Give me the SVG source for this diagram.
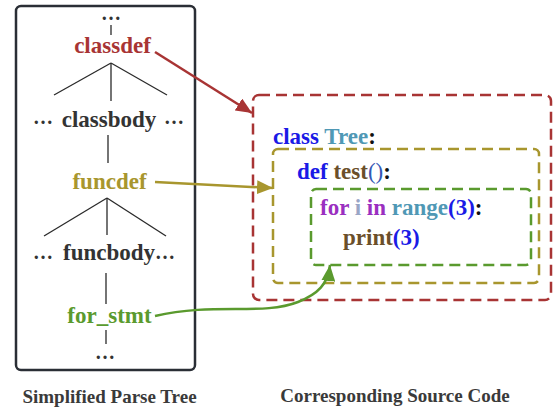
<svg xmlns="http://www.w3.org/2000/svg" width="560" height="408" viewBox="0 0 560 408">
<style>
.t{font-family:"Liberation Serif","Times New Roman",serif;font-weight:bold;}
.lbl{font-size:23px;text-anchor:middle;}
.dots{font-size:20px;fill:#333;}
.edge{stroke:#2a2a2a;stroke-width:1.3;fill:none;}
.cap{font-size:19px;fill:#3a3a3a;text-anchor:middle;}
.code{font-size:23px;}
</style>
<defs>
<marker id="ar" markerUnits="userSpaceOnUse" markerWidth="18" markerHeight="14" refX="16" refY="7" orient="auto"><path d="M0,0 L16,7 L0,14 z" fill="#a83434"/></marker>
<marker id="ao" markerUnits="userSpaceOnUse" markerWidth="18" markerHeight="14" refX="16" refY="7" orient="auto"><path d="M0,0 L16,7 L0,14 z" fill="#a8962e"/></marker>
<marker id="ag" markerUnits="userSpaceOnUse" markerWidth="18" markerHeight="14" refX="16" refY="7" orient="auto"><path d="M0,0 L16,7 L0,14 z" fill="#5a9a2e"/></marker>
</defs>
<rect width="560" height="408" fill="#fff"/>

<g id="parse-tree">
<rect x="16" y="6" width="179" height="364" rx="5" fill="none" stroke="#2a2e35" stroke-width="2.5"/>
<text class="t dots" x="101" y="20">…</text>
<line class="edge" x1="111" y1="25" x2="111" y2="35"/>
<line class="edge" x1="111" y1="63" x2="54" y2="95"/>
<line class="edge" x1="111" y1="63" x2="111" y2="101"/>
<line class="edge" x1="111" y1="63" x2="167" y2="95"/>
<line class="edge" x1="108" y1="135" x2="108" y2="163"/>
<line class="edge" x1="107" y1="198" x2="44" y2="236"/>
<line class="edge" x1="107" y1="198" x2="107" y2="235"/>
<line class="edge" x1="107" y1="198" x2="166" y2="236"/>
<line class="edge" x1="106" y1="273" x2="106" y2="304"/>
<line class="edge" x1="106" y1="330" x2="106" y2="344"/>
<text class="t dots" x="33" y="124">…</text>
<text class="t dots" x="164" y="124">…</text>
<text class="t dots" x="33" y="259">…</text>
<text class="t dots" x="155" y="259">…</text>
<text class="t dots" x="95" y="359">…</text>
</g>
<g id="classdef"><text class="t lbl" x="112.5" y="53" fill="#a83434">classdef</text></g>
<g id="classbody"><text class="t lbl" x="109" y="127" fill="#333">classbody</text></g>
<g id="funcdef"><text class="t lbl" x="109.5" y="189" fill="#a8962e">funcdef</text></g>
<g id="funcbody"><text class="t lbl" x="109" y="260" fill="#333">funcbody</text></g>
<g id="for_stmt"><text class="t lbl" x="109.5" y="323" fill="#5a9a2e">for_stmt</text></g>

<g id="source-code">
<rect x="253" y="95" width="298" height="205" rx="6" fill="none" stroke="#a83434" stroke-width="2.5" stroke-dasharray="11,6"/>
<rect x="273" y="149" width="266" height="134" rx="5" fill="none" stroke="#a8962e" stroke-width="2.5" stroke-dasharray="11,6"/>
<rect x="311" y="189" width="220" height="76" rx="5" fill="none" stroke="#5a9a2e" stroke-width="2.5" stroke-dasharray="11,6"/>
<text class="t code" x="273" y="144"><tspan fill="#1a1ae6">class</tspan> <tspan fill="#4f98b5">Tree</tspan><tspan fill="#111">:</tspan></text>
<text class="t code" x="297" y="179"><tspan fill="#1a1ae6">def</tspan> <tspan fill="#6b4f2a">test</tspan><tspan fill="#3558b5" font-weight="normal">()</tspan><tspan fill="#111">:</tspan></text>
<text class="t code" x="320" y="215"><tspan fill="#9a2fc0">for</tspan> <tspan fill="#9aa6c6">i</tspan> <tspan fill="#9a2fc0">in</tspan> <tspan fill="#4f98b5">range</tspan><tspan fill="#1a1ae6">(3)</tspan><tspan fill="#111">:</tspan></text>
<text class="t code" x="343" y="245"><tspan fill="#6b4f2a">print</tspan><tspan fill="#1a1ae6">(3)</tspan></text>
</g>

<g id="connectors">
<line x1="155" y1="52" x2="252" y2="113" stroke="#a83434" stroke-width="2.5" marker-end="url(#ar)"/>
<line x1="155" y1="182" x2="273" y2="188" stroke="#a8962e" stroke-width="2.5" marker-end="url(#ao)"/>
<path d="M155,316 C215,302 262,316 298,302 C318,294 328,284 330,265" fill="none" stroke="#5a9a2e" stroke-width="2.5" marker-end="url(#ag)"/>
</g>

<g id="captions">
<text class="t cap" x="109.5" y="403">Simplified Parse Tree</text>
<text class="t cap" x="395" y="402">Corresponding Source Code</text>
</g>
</svg>
